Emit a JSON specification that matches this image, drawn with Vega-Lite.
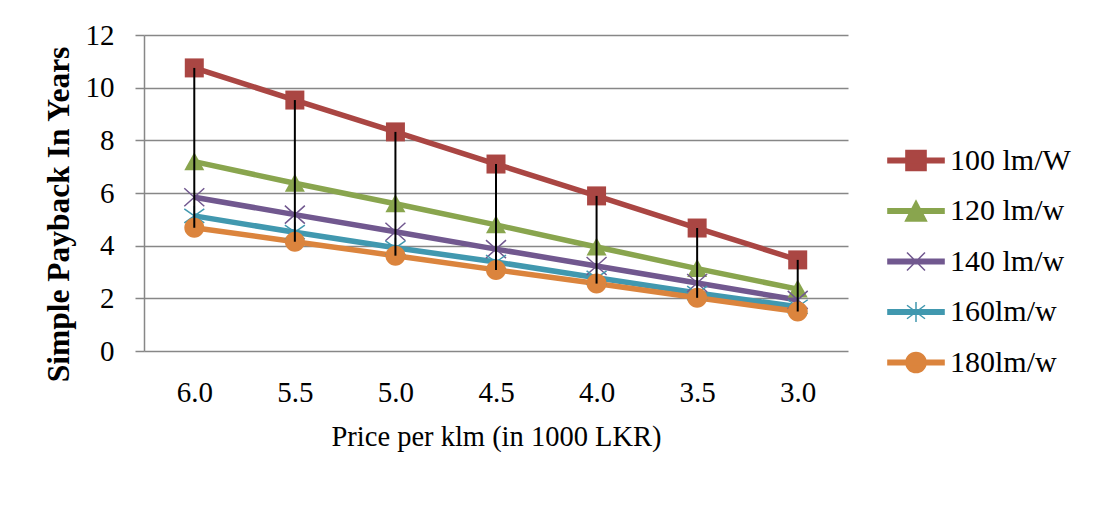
{
  "$schema": "https://vega.github.io/schema/vega-lite/v6.json",
  "autosize": "none",
  "width": 704,
  "height": 316,
  "padding": {"left": 144, "top": 35, "right": 251, "bottom": 167},
  "background": "white",
  "config": {
    "view": {"stroke": null},
    "font": "Liberation Serif",
    "axis": {"labelFont": "Liberation Serif", "titleFont": "Liberation Serif", "labelColor": "black", "titleColor": "black"},
    "legend": {"labelFont": "Liberation Serif", "labelColor": "black"}
  },
  "data": {
    "values": [
      {"price": "6.0", "series": "100 lm/W", "value": 10.75},
      {"price": "5.5", "series": "100 lm/W", "value": 9.53},
      {"price": "5.0", "series": "100 lm/W", "value": 8.32},
      {"price": "4.5", "series": "100 lm/W", "value": 7.10},
      {"price": "4.0", "series": "100 lm/W", "value": 5.89},
      {"price": "3.5", "series": "100 lm/W", "value": 4.67},
      {"price": "3.0", "series": "100 lm/W", "value": 3.46},
      {"price": "6.0", "series": "120 lm/w", "value": 7.19},
      {"price": "5.5", "series": "120 lm/w", "value": 6.37},
      {"price": "5.0", "series": "120 lm/w", "value": 5.59},
      {"price": "4.5", "series": "120 lm/w", "value": 4.79},
      {"price": "4.0", "series": "120 lm/w", "value": 3.95},
      {"price": "3.5", "series": "120 lm/w", "value": 3.13},
      {"price": "3.0", "series": "120 lm/w", "value": 2.35},
      {"price": "6.0", "series": "140 lm/w", "value": 5.84},
      {"price": "5.5", "series": "140 lm/w", "value": 5.18},
      {"price": "5.0", "series": "140 lm/w", "value": 4.53},
      {"price": "4.5", "series": "140 lm/w", "value": 3.87},
      {"price": "4.0", "series": "140 lm/w", "value": 3.23},
      {"price": "3.5", "series": "140 lm/w", "value": 2.58},
      {"price": "3.0", "series": "140 lm/w", "value": 1.94},
      {"price": "6.0", "series": "160lm/w", "value": 5.13},
      {"price": "5.5", "series": "160lm/w", "value": 4.51},
      {"price": "5.0", "series": "160lm/w", "value": 3.92},
      {"price": "4.5", "series": "160lm/w", "value": 3.38},
      {"price": "4.0", "series": "160lm/w", "value": 2.78},
      {"price": "3.5", "series": "160lm/w", "value": 2.20},
      {"price": "3.0", "series": "160lm/w", "value": 1.68},
      {"price": "6.0", "series": "180lm/w", "value": 4.68},
      {"price": "5.5", "series": "180lm/w", "value": 4.15},
      {"price": "5.0", "series": "180lm/w", "value": 3.62},
      {"price": "4.5", "series": "180lm/w", "value": 3.08},
      {"price": "4.0", "series": "180lm/w", "value": 2.56},
      {"price": "3.5", "series": "180lm/w", "value": 2.02},
      {"price": "3.0", "series": "180lm/w", "value": 1.50}
    ]
  },
  "encoding": {
    "x": {
      "field": "price", "type": "ordinal", "sort": null,
      "scale": {"type": "point", "padding": 0.5},
      "axis": {"title": "Price per klm (in 1000 LKR)", "labelFont": "Liberation Serif", "titleFont": "Liberation Serif", "labelAngle": 0, "labelFontSize": 29, "titleFontSize": 28.5, "titleFontWeight": "normal", "domain": false, "ticks": false, "labelPadding": 27, "titlePadding": 15}
    },
    "y": {
      "field": "value", "type": "quantitative",
      "scale": {"domain": [0, 12], "nice": false},
      "axis": {"title": "Simple Payback In Years", "labelFont": "Liberation Serif", "titleFont": "Liberation Serif", "values": [0, 2, 4, 6, 8, 10, 12], "labelFontSize": 29, "titleFontSize": 31.5, "titleFontWeight": "bold", "titleY": 179, "domainColor": "#878787", "domainWidth": 1.5, "tickColor": "#878787", "tickWidth": 1.5, "tickSize": 9, "labelPadding": 21, "gridColor": "#878787", "gridWidth": 1.5, "titlePadding": 10}
    },
    "color": {
      "field": "series", "type": "nominal", "sort": null,
      "scale": {"domain": ["100 lm/W", "120 lm/w", "140 lm/w", "160lm/w", "180lm/w"], "range": ["#AA4643", "#89A54E", "#71588F", "#4198AF", "#DB843D"]},
      "legend": {
        "title": null, "orient": "none", "legendX": 756, "legendY": 109.5,
        "padding": 0, "labelFont": "Liberation Serif", "labelFontSize": 30, "symbolSize": 900, "labelOffset": 18, "rowPadding": 19.5,
        "encode": {
          "symbols": {
            "update": {
              "shape": {"signal": "datum.value === '100 lm/W' ? 'M-1.87,-0.15H1.87V0.15H-1.87Z M-0.67,-0.67H0.67V0.67H-0.67Z' : datum.value === '120 lm/w' ? 'M-1.87,-0.15H1.87V0.15H-1.87Z M0,-0.67L0.7,0.67H-0.7Z' : datum.value === '140 lm/w' ? 'M-1.87,-0.15H1.87V0.15H-1.87Z M-0.6,-0.6L0.6,0.6M-0.6,0.6L0.6,-0.6' : datum.value === '160lm/w' ? 'M-1.87,-0.15H1.87V0.15H-1.87Z M0,-0.67V0.67M-0.6,-0.45L0.6,0.45M-0.6,0.45L0.6,-0.45' : 'M-1.87,-0.15H1.87V0.15H-1.87Z M-0.67,0A0.67,0.67 0 1,1 0.67,0A0.67,0.67 0 1,1 -0.67,0Z'"},
              "fill": {"scale": "color", "field": "value"},
              "stroke": {"scale": "color", "field": "value"},
              "strokeWidth": {"value": 1.5},
              "opacity": {"value": 1}
            }
          }
        }
      }
    }
  },
  "layer": [
    {
      "mark": {"type": "line", "strokeWidth": 5.5}
    },
    {
      "transform": [{"filter": "datum.series === '100 lm/W'"}],
      "mark": {"type": "point", "filled": true, "size": 400, "opacity": 1, "shape": "M-0.95,-0.95H0.95V0.95H-0.95Z"}
    },
    {
      "transform": [{"filter": "datum.series === '120 lm/w'"}],
      "mark": {"type": "point", "filled": true, "size": 400, "opacity": 1, "shape": "M0,-0.95L1,0.85H-1Z"}
    },
    {
      "transform": [{"filter": "datum.series === '140 lm/w'"}],
      "mark": {"type": "point", "filled": false, "size": 400, "opacity": 1, "strokeWidth": 1.5, "shape": "M-1,-0.9L1,0.9M-1,0.9L1,-0.9"}
    },
    {
      "transform": [{"filter": "datum.series === '160lm/w'"}],
      "mark": {"type": "point", "filled": false, "size": 400, "opacity": 1, "strokeWidth": 1.5, "shape": "M0,-1V1M-1,-0.7L1,0.7M-1,0.7L1,-0.7"}
    },
    {
      "transform": [{"filter": "datum.series === '180lm/w'"}],
      "mark": {"type": "point", "filled": true, "size": 400, "opacity": 1, "shape": "M-1,0A1,1 0 1,1 1,0A1,1 0 1,1 -1,0Z"}
    },
    {
      "mark": {"type": "rule", "color": "black", "strokeWidth": 2},
      "encoding": {
        "y": {"aggregate": "max", "field": "value", "type": "quantitative"},
        "y2": {"aggregate": "min", "field": "value"},
        "color": null
      }
    }
  ]
}
